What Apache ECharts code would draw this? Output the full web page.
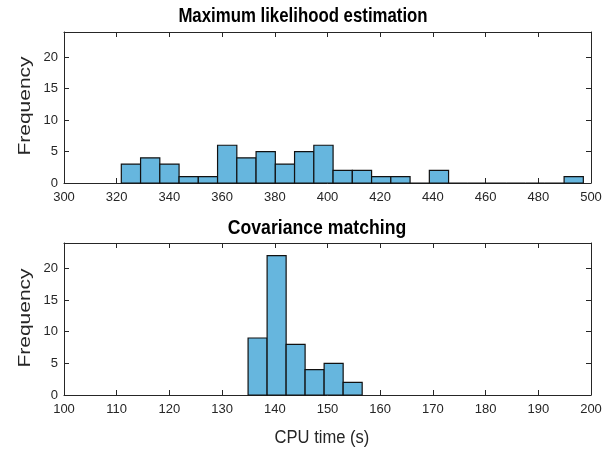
<!DOCTYPE html>
<html>
<head>
<meta charset="utf-8">
<script src="https://cdn.jsdelivr.net/npm/echarts@6/dist/echarts.min.js"></script>
<style>
  html, body { margin: 0; padding: 0; background: #fff; }
  #chart { width: 611px; height: 449px; }
</style>
</head>
<body>
<div id="chart"></div>
<script>
// bin edges and counts
const mleEdges = [321.75, 329.06, 336.36, 343.67, 350.97, 358.28, 365.59, 372.89, 380.20,
  387.50, 394.81, 402.12, 409.42, 416.73, 424.03, 431.34, 438.65, 445.95, 453.26, 460.56,
  467.87, 475.18, 482.48, 489.79, 497.09];
const mleCounts = [3, 4, 3, 1, 1, 6, 4, 5, 3, 5, 6, 2, 2, 1, 1, 0, 2, 0, 0, 0, 0, 0, 0, 1];

const covEdges = [134.93, 138.54, 142.15, 145.75, 149.36, 152.97, 156.58];
const covCounts = [9, 22, 8, 4, 5, 2];

const titles = ['Maximum likelihood estimation', 'Covariance matching'];
const yTicks = [0, 5, 10, 15, 20];

const toBins = (edges, counts) => counts.map((c, i) => [edges[i], edges[i + 1], c]);

const chartDom = document.getElementById('chart');
const myChart = echarts.init(chartDom, null, { renderer: 'canvas' });

const axisColor = '#262626';
const font = "'Liberation Sans', Arial, sans-serif";
const barColor = '#66b6de';

const grids = [
  { left: 64, right: 20, top: 32, height: 151 },
  { left: 64, right: 20, top: 243, height: 152 }
];

function xAx(gridIndex, min, max, interval, position, showLabel) {
  return {
    type: 'value', gridIndex, min, max, interval, position,
    axisLine: { show: true, onZero: false, lineStyle: { color: axisColor, width: 1 } },
    axisTick: { show: true, inside: true, length: 5, lineStyle: { color: axisColor } },
    axisLabel: { show: showLabel, color: axisColor, fontSize: 13, fontFamily: font, margin: 8 },
    splitLine: { show: false }
  };
}

function yAx(gridIndex, position, showLabel) {
  return {
    type: 'value', gridIndex, min: 0, max: 24, interval: 5, position,
    axisLine: { show: true, onZero: false, lineStyle: { color: axisColor, width: 1 } },
    axisTick: { show: true, inside: true, length: 5, lineStyle: { color: axisColor } },
    axisLabel: {
      show: showLabel, color: axisColor, fontSize: 13, fontFamily: font, margin: 6,
      formatter: v => (yTicks.includes(v) ? String(v) : '')
    },
    splitLine: { show: false }
  };
}

function histSeries(xAxisIndex, yAxisIndex, data) {
  return {
    type: 'custom', xAxisIndex, yAxisIndex, data,
    renderItem(params, api) {
      const a = api.coord([api.value(0), api.value(2)]);
      const b = api.coord([api.value(1), 0]);
      return {
        type: 'rect',
        shape: { x: a[0], y: a[1], width: b[0] - a[0], height: b[1] - a[1] },
        style: { fill: barColor, stroke: '#111', lineWidth: 1.2 }
      };
    }
  };
}

// the source figure is squeezed sideways, so texts are narrowed with scaleX
function label(text, x, y, size, weight, sx, rotate) {
  return {
    type: 'text', x, y,
    rotation: rotate ? Math.PI / 2 : 0,
    scaleX: rotate ? 1 : sx,
    scaleY: rotate ? sx : 1,
    style: {
      text, fill: weight === 'bold' ? '#000' : axisColor,
      font: `${weight} ${size}px ${font}`,
      align: 'center', verticalAlign: 'middle'
    }
  };
}

const option = {
  animation: false,
  backgroundColor: '#fff',
  grid: grids,
  xAxis: [
    xAx(0, 300, 500, 20, 'bottom', true),
    xAx(1, 100, 200, 10, 'bottom', true),
    xAx(0, 300, 500, 20, 'top', false),
    xAx(1, 100, 200, 10, 'top', false)
  ],
  yAxis: [
    yAx(0, 'left', true),
    yAx(1, 'left', true),
    yAx(0, 'right', false),
    yAx(1, 'right', false)
  ],
  graphic: [
    label(titles[0], 303, 16, 21, 'bold', 0.80, false),
    label(titles[1], 317, 228, 21, 'bold', 0.84, false),
    label('CPU time (s)', 322, 438, 18, 'normal', 0.92, false),
    label('Frequency', 25, 106, 21, 'normal', 0.78, true),
    label('Frequency', 25, 318, 21, 'normal', 0.78, true)
  ],
  series: [
    histSeries(0, 0, toBins(mleEdges, mleCounts)),
    histSeries(1, 1, toBins(covEdges, covCounts))
  ]
};

myChart.setOption(option);
</script>
</body>
</html>
